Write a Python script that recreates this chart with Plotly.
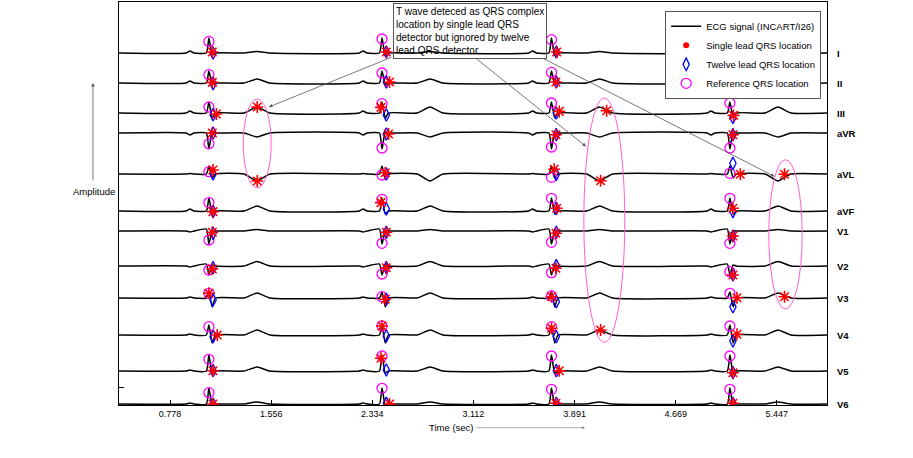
import plotly.graph_objects as go

# ---------------- data ----------------
leads = ["I", "II", "III", "aVR", "aVL", "aVF", "V1", "V2", "V3", "V4", "V5", "V6"]
lead_offset = [352, 322, 292, 272, 231, 194, 174, 139, 107, 70, 34, 1]

# R-peak (reference) times of the four beats, seconds
beat_r_time = [1.077, 2.409, 3.713, 5.086]
# twelve-lead detector output times
twelve_time = [1.109, 2.442, 3.750, 5.109]

# beat template: time offsets from R (s) for P-on, P, P-off, Q, R, S, J, T-on, T, T-off
template_dt = [-0.175, -0.146, -0.115, -0.02, 0.0, 0.025, 0.05, 0.27, 0.37, 0.47]
P_amp = [2, 2, 2, -2, 0.5, 2, -1, -1, 1, 1, 1, 1]
Q_amp = [0, 0, 0, 0, 0, 0, 2, 2, 0, 0, 0, 0]
R_amp = [15, 12, 11, -16, 8, 13, -13, -9, 6, 10, 16, 16]
S_amp = [-2, -1, -5, 1, -4, -3, 0, 1, -9, -8, -2, -1]
T_amp = [1.5, 4, 6, -4, -7, 5, 1.5, 4.5, 5, 5, 4, 2]

# reference QRS marks (amplitude relative to lead baseline), one per beat
ref_amp = [
    [11.6, 14, 13.3, 13], [8.3, 10, 10.6, 11.6], [6, 9.3, 10, 10],
    [-10.7, -15, -14, -15], [2.3, -1, -3.3, 0.7], [8.4, 11.7, 12.7, 12.7],
    [-9, -12.3, -11.3, -12.3], [-4, -8, -6.7, -5.7], [4.7, 1.3, 2, 4.7],
    [8.3, 9, 8.3, 9], [11.7, 15, 15, 15], [11.3, 15.7, 14.7, 14.7],
]
# twelve-lead QRS marks
twelve_amp = [
    [0, 1, 1, 0], [-0.7, 1, 1, 0], [-1.7, -2, 0, -4.4],
    [0, -1, -1.7, -1.7], [0, 0, -0.3, 10.7], [-0.6, 2, 2.7, -0.6],
    [-2.3, -1.3, -1.3, -5], [-1.7, -1.7, 0.3, -9], [-2, -1.3, -3.7, -8.7],
    [-1.7, -1, -1.7, -6], [0.3, 1, 0.3, -1.7], [0, 0.7, 0.7, 0.7],
]
# single-lead detector marks (times and amplitudes), per lead
single_time = [
    [1.103, 2.442, 3.753, 5.109],
    [1.103, 2.467, 3.747, 5.109],
    [1.134, 1.449, 2.401, 3.773, 4.137, 5.114],
    [1.103, 2.459, 3.747, 5.109],
    [1.108, 1.449, 2.434, 3.734, 4.091, 5.166, 5.506],
    [1.108, 2.401, 3.753, 5.109],
    [1.103, 2.442, 3.747, 5.109],
    [1.103, 2.442, 3.747, 5.109],
    [1.077, 2.434, 3.714, 5.140, 5.506],
    [1.141, 2.409, 3.714, 4.091, 5.140],
    [1.108, 2.401, 3.773, 5.109],
    [1.108, 2.467, 3.747, 5.109],
]
single_amp = [
    [1, 1, 1, 0],
    [0.6, 1, 1, 1],
    [-1, 6, 5.6, 1.6, 2.3, -2.4],
    [0, -1, -1.7, -1.7],
    [4, -7, 1.3, 4.7, -6.7, -0.3, -0.3],
    [-0.6, 8.4, 2.7, 2.7],
    [-1.3, -1.3, -2.3, -5],
    [-3, -1.7, -2.3, -9],
    [4.7, -1.3, 1.3, 0.3, 1.3],
    [0, 9, 6.7, 5, 0.7],
    [0.3, 12.7, 0.3, -1.7],
    [0, 0, 0.7, 0.7],
]

tick_labels = ["0.778", "1.556", "2.334", "3.112", "3.891", "4.669", "5.447"]
x_range = [0.385, 5.833]
y_range = [0, 403]

# highlighted false detections (ellipses): t0, t1, y0, y1
ellipse_t0 = [1.341, 3.962, 5.385]
ellipse_t1 = [1.556, 4.277, 5.642]
ellipse_y0 = [217, 62.6, 96]
ellipse_y1 = [306, 307, 245.3]

# callout arrows: head (t, y) and tail (t, y)
arrow_head_t = [1.538, 3.978, 5.429]
arrow_head_y = [298, 258.6, 228.6]
arrow_tail_t = [2.493, 3.125, 3.638]
arrow_tail_y = [348.3, 347.3, 347.3]

callout_text = ("T wave deteced as QRS complex<br>location by single lead QRS<br>"
                "detector but ignored by twelve<br>lead QRS detector")

FONT = "Liberation Sans, Arial, sans-serif"

fig = go.Figure()

# ECG traces
for i, lead in enumerate(leads):
    base = lead_offset[i]
    amps = [0, P_amp[i], 0, Q_amp[i], R_amp[i], S_amp[i], 0, 0, T_amp[i], 0]
    xs, ys = [x_range[0]], [base]
    for tr in beat_r_time:
        for dt, a in zip(template_dt, amps):
            xs.append(tr + dt)
            ys.append(base + a)
    xs.append(x_range[1])
    ys.append(base)
    fig.add_trace(go.Scatter(
        x=xs, y=ys, mode="lines",
        line=dict(color="black", width=1.5, shape="spline", smoothing=0.5),
        name="ECG signal (INCART/I26)", legendgroup="ecg", legendrank=1,
        showlegend=(i == 0), hoverinfo="skip"))

# reference circles
rx, ry = [], []
for i in range(len(leads)):
    for t, a in zip(beat_r_time, ref_amp[i]):
        rx.append(t)
        ry.append(lead_offset[i] + a)
# twelve-lead diamonds
dx, dy = [], []
for i in range(len(leads)):
    for t, a in zip(twelve_time, twelve_amp[i]):
        dx.append(t)
        dy.append(lead_offset[i] + a)
# single-lead stars
sx, sy = [], []
for i in range(len(leads)):
    for t, a in zip(single_time[i], single_amp[i]):
        sx.append(t)
        sy.append(lead_offset[i] + a)

fig.add_trace(go.Scatter(
    x=rx, y=ry, mode="markers", name="Reference QRS location", legendrank=4,
    marker=dict(symbol="circle-open", size=10, color="#ff00ff", line=dict(width=1.3)),
    hoverinfo="skip"))
fig.add_trace(go.Scatter(
    x=dx, y=dy, mode="markers", name="Twelve lead QRS location", legendrank=3,
    marker=dict(symbol="diamond-tall-open", size=9, color="#0000ff", line=dict(width=1.3)),
    hoverinfo="skip"))
fig.add_trace(go.Scatter(
    x=sx, y=sy, mode="markers", name="Single lead QRS location", showlegend=False,
    marker=dict(symbol="asterisk-open", size=10, color="#ff0000", line=dict(width=1.6, color="#ff0000")),
    hoverinfo="skip"))
# legend entry for single-lead marks (shown as a red dot in the reference legend)
fig.add_trace(go.Scatter(
    x=[None], y=[None], mode="markers", name="Single lead QRS location", legendrank=2,
    marker=dict(symbol="circle", size=6, color="#ff0000")))

shapes = []
for t0, t1, y0, y1 in zip(ellipse_t0, ellipse_t1, ellipse_y0, ellipse_y1):
    shapes.append(dict(type="circle", xref="x", yref="y", x0=t0, x1=t1, y0=y0, y1=y1,
                       line=dict(color="#ff5fd0", width=1)))

annotations = []
# callout text box (transparent)
annotations.append(dict(
    x=arrow_tail_t[0], y=y_range[1] - 1, xref="x", yref="y", xanchor="left", yanchor="top",
    text=callout_text, showarrow=False, align="left",
    font=dict(family=FONT, size=10, color="black"),
    bordercolor="#555555", borderwidth=1, borderpad=2, bgcolor="rgba(0,0,0,0)"))
for ht, hy, tt, ty in zip(arrow_head_t, arrow_head_y, arrow_tail_t, arrow_tail_y):
    annotations.append(dict(
        x=ht, y=hy, xref="x", yref="y", ax=tt, ay=ty, axref="x", ayref="y",
        text="", showarrow=True, arrowhead=2, arrowsize=0.9, arrowwidth=0.8,
        arrowcolor="#555555"))
# lead names on the right
for i, lead in enumerate(leads):
    annotations.append(dict(
        x=1, y=lead_offset[i], xref="paper", yref="y", xanchor="left", yanchor="middle",
        xshift=8, text=lead, showarrow=False,
        font=dict(family=FONT, size=9.5, color="black", weight="bold")))
# axis titles with arrows
annotations.append(dict(
    x=-0.0358, y=0.529, xref="paper", yref="paper", xanchor="center", yanchor="middle",
    text="Amplitude", showarrow=False,
    font=dict(family=FONT, size=9.5, color="black")))
annotations.append(dict(
    x=-0.0368, y=0.799, xref="paper", yref="paper", ax=0, ay=99, text="", showarrow=True,
    arrowhead=2, arrowsize=0.9, arrowwidth=0.8, arrowcolor="#555555"))
annotations.append(dict(
    x=0.4703, y=-0.0563, xref="paper", yref="paper", xanchor="center", yanchor="middle",
    text="Time (sec)", showarrow=False,
    font=dict(family=FONT, size=9.5, color="black")))
annotations.append(dict(
    x=0.658, y=-0.0563, xref="paper", yref="paper", ax=-110, ay=0, text="", showarrow=True,
    arrowhead=2, arrowsize=0.9, arrowwidth=0.6, arrowcolor="#777777"))

fig.update_layout(
    width=913, height=458,
    margin=dict(l=119, r=86, t=2, b=53),
    paper_bgcolor="white", plot_bgcolor="white",
    font=dict(family=FONT, size=9.5, color="black"),
    shapes=shapes, annotations=annotations,
    legend=dict(x=0.7714, y=0.978, xanchor="left", yanchor="top",
                bgcolor="white", bordercolor="#555555", borderwidth=1,
                font=dict(family=FONT, size=9.5, color="black"),
                itemwidth=30, tracegroupgap=0),
    xaxis=dict(range=x_range, tickvals=[float(v) for v in tick_labels], ticktext=tick_labels,
               ticks="inside", ticklen=5, tickcolor="black", showline=True, linecolor="black",
               linewidth=1, mirror=True, showgrid=False, zeroline=False,
               tickfont=dict(family=FONT, size=9, color="black")),
    yaxis=dict(range=y_range, tickvals=[18], ticktext=[""], ticks="inside", ticklen=5,
               tickcolor="black", showline=True, linecolor="black", linewidth=1, mirror=True,
               showgrid=False, zeroline=False),
)

fig.write_html("out.html",
               config={"displayModeBar": False},
               post_script="document.body.style.margin='0px';document.body.style.overflow='hidden';")
